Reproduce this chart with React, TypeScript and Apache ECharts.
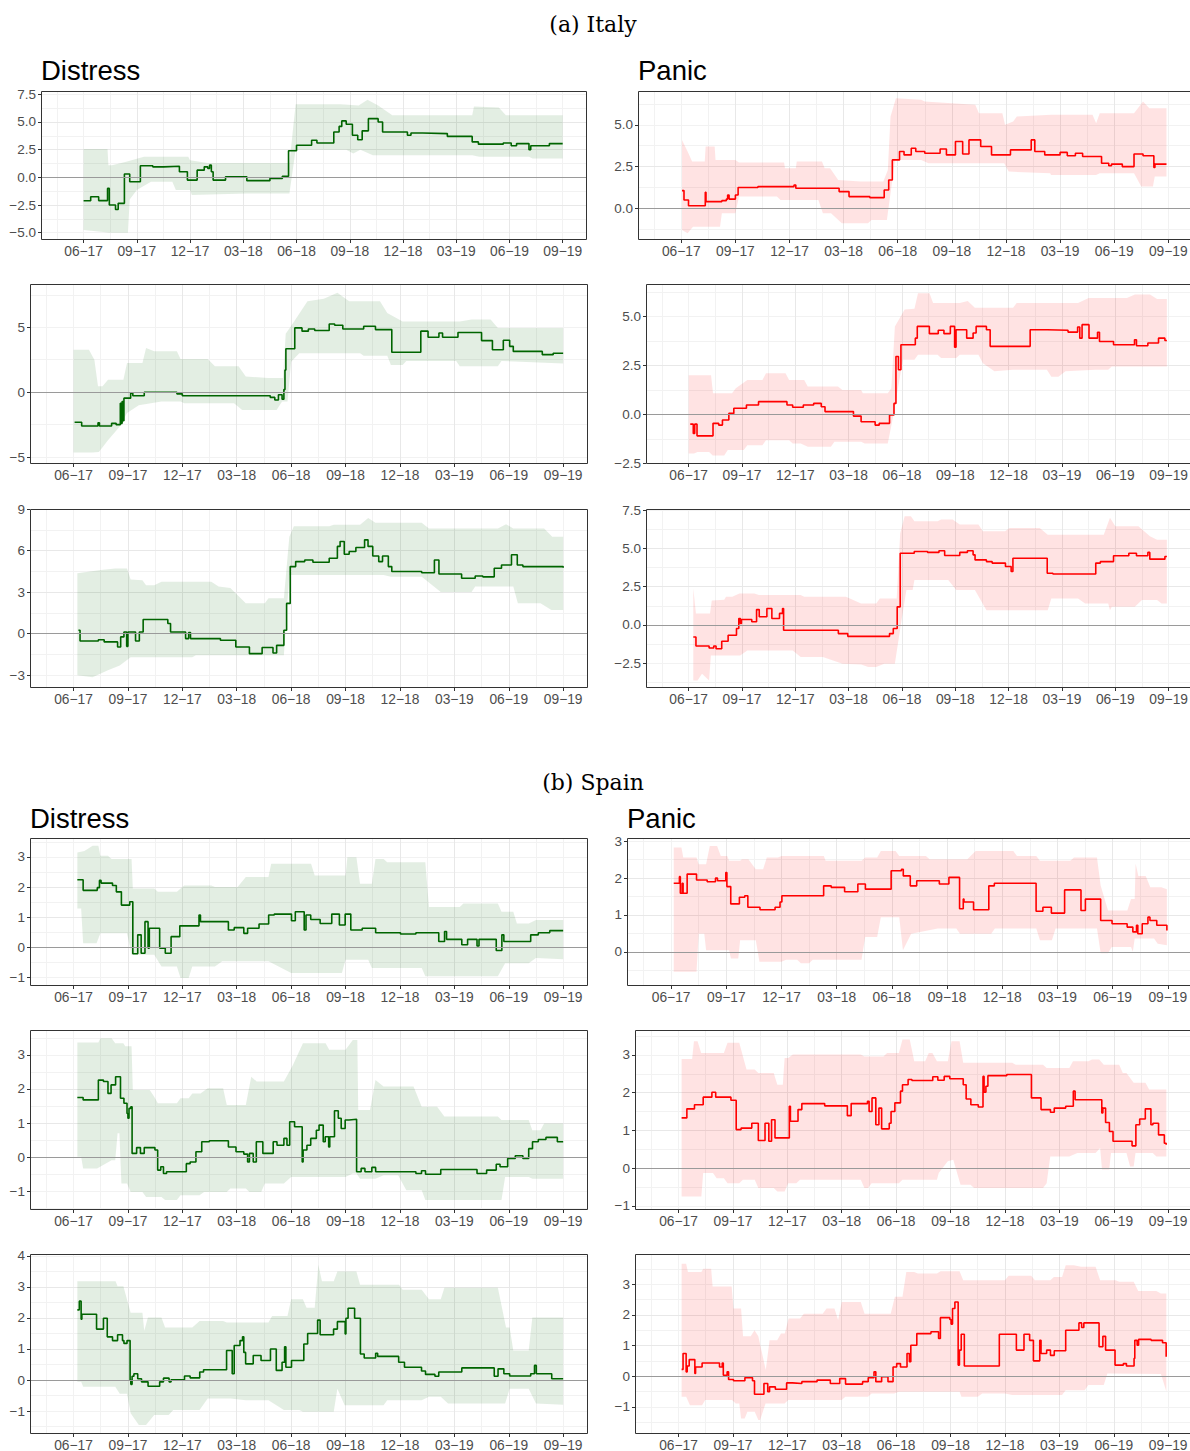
import React, { useEffect, useRef } from "react";
import * as echarts from "echarts";

type Pt = [number, number];

// x is a month counter: 1 = Jan 2017, 6 = Jun 2017, ..., 33 = Sep 2019
const quarterTicks = [6, 9, 12, 15, 18, 21, 24, 27, 30, 33];
const quarterLabels = ["06−17", "09−17", "12−17", "03−18", "06−18", "09−18", "12−18", "03−19", "06−19", "09−19"];

// ---------------- Italy ----------------
const itDis1Line: Pt[] = [[6.0,-2.11],[6.4,-1.75],[6.85,-2.1],[7.35,-1.0],[7.45,-2.5],[7.8,-2.9],[7.95,-2.35],[8.3,0.3],[8.6,-0.4],[9.2,1.05],[9.9,0.95],[10.5,1.0],[11.4,0.5],[11.85,-0.25],[12.4,0.65],[12.8,0.95],[13.0,0.8],[13.1,1.1],[13.2,0.5],[13.3,-0.25],[14.0,0.05],[15.2,-0.3],[16.5,-0.1],[17.2,0.1],[17.55,2.4],[18.0,2.9],[18.85,3.35],[19.15,3.1],[20.1,4.1],[20.4,4.6],[20.55,5.1],[20.8,4.8],[21.15,3.8],[21.45,3.4],[21.7,4.2],[22.05,5.3],[22.6,5.0],[22.85,4.1],[24.25,3.8],[24.45,4.0],[25.1,3.95],[26.5,3.7],[27.9,3.2],[28.25,3.0],[29.65,3.1],[30.1,2.85],[30.4,3.05],[31.1,2.5],[31.2,2.85],[32.25,3.05],[33.0,3.05]];
const itDis1Hi: Pt[] = [[6.0,2.55],[7.35,2.55],[7.4,1.1],[7.6,1.1],[8.4,1.4],[9.4,1.85],[11.9,1.85],[12.0,1.55],[13.0,1.3],[17.6,1.3],[17.95,6.6],[20.5,6.6],[21.5,6.5],[22.0,7.0],[22.6,6.5],[23.4,5.6],[27.9,5.6],[28.0,6.4],[29.4,6.3],[29.8,5.6],[33.0,5.6]];
const itDis1Lo: Pt[] = [[6.0,-4.75],[7.5,-5.0],[8.5,-5.0],[8.6,-2.0],[9.0,-1.15],[9.8,-0.4],[11.0,-0.4],[11.2,-1.15],[12.0,-1.15],[12.1,-1.6],[15.2,-1.45],[17.6,-1.45],[17.95,2.5],[20.8,2.5],[21.2,2.15],[21.6,2.5],[22.3,2.0],[27.9,2.0],[28.3,1.85],[31.1,1.85],[31.3,1.7],[33.0,1.7]];

const itPan1Line: Pt[] = [[6.04,1.06],[6.15,0.5],[6.4,0.15],[7.33,0.96],[7.37,0.4],[8.25,0.46],[8.5,0.55],[8.57,0.8],[8.65,0.55],[9.0,0.8],[9.15,1.25],[10.25,1.3],[12.25,1.4],[12.35,1.2],[14.75,1.0],[15.3,0.7],[16.45,0.64],[17.25,1.1],[17.5,1.7],[17.7,2.9],[18.1,3.4],[18.35,3.2],[18.75,3.6],[19.0,3.4],[19.5,3.3],[20.35,3.55],[20.7,3.2],[21.2,4.0],[21.6,3.25],[21.95,4.1],[22.6,3.7],[23.2,3.2],[24.25,3.5],[25.4,4.1],[25.6,3.4],[26.15,3.2],[27.0,3.35],[27.4,3.15],[27.85,3.3],[28.25,3.1],[29.3,2.7],[29.7,2.55],[29.85,2.65],[30.45,2.5],[31.1,3.25],[31.6,3.15],[32.2,2.45],[32.26,2.65],[32.9,2.65]];
const itPan1Hi: Pt[] = [[6.04,4.1],[6.35,3.4],[6.6,2.8],[7.3,2.8],[7.35,3.7],[7.85,3.7],[7.9,2.9],[9.0,2.9],[9.2,2.75],[11.7,2.75],[11.75,2.4],[12.35,2.4],[12.4,2.8],[13.8,2.8],[13.95,2.4],[14.25,2.4],[14.7,1.7],[15.95,1.6],[17.2,1.6],[17.45,2.3],[17.6,5.5],[17.9,6.6],[19.3,6.5],[19.5,6.4],[21.0,6.3],[22.3,6.2],[22.5,5.7],[23.8,5.7],[23.95,5.0],[24.4,5.2],[24.6,5.5],[26.5,5.6],[28.8,5.6],[29.0,5.1],[29.2,5.7],[31.1,5.7],[31.6,6.4],[31.95,6.0],[32.9,6.0]];
const itPan1Lo: Pt[] = [[6.04,-1.3],[6.35,-1.5],[6.65,-1.1],[8.15,-1.1],[8.25,-0.3],[9.0,-0.3],[9.2,0.7],[11.3,0.7],[11.5,0.5],[13.6,0.5],[13.85,-0.3],[14.3,-0.3],[14.9,-0.9],[16.35,-0.9],[16.55,-0.7],[17.4,-0.7],[17.85,2.9],[19.3,2.9],[19.7,2.7],[23.9,2.7],[24.15,2.2],[26.45,2.1],[26.5,2.0],[29.0,2.0],[29.2,2.1],[31.1,2.1],[31.5,1.3],[32.15,1.3],[32.25,1.9],[32.9,1.9]];

const itDis2Line: Pt[] = [[6.06,-2.32],[6.45,-2.6],[7.35,-2.35],[7.43,-2.6],[8.1,-2.4],[8.35,-2.5],[8.58,-0.85],[8.63,-2.4],[8.68,-0.72],[8.72,-2.2],[8.78,-0.46],[9.15,-0.08],[9.27,-0.28],[9.9,0.0],[11.7,-0.13],[12.0,-0.28],[16.85,-0.4],[17.1,-0.6],[17.3,-0.2],[17.5,-0.55],[17.6,0.2],[17.66,1.7],[17.71,3.35],[18.2,4.95],[18.6,4.7],[18.95,4.87],[19.3,4.75],[20.1,5.25],[20.4,5.15],[20.85,4.87],[22.0,5.08],[22.65,4.82],[23.55,3.07],[25.15,4.7],[25.55,4.23],[26.15,4.56],[26.35,4.23],[27.2,4.6],[28.5,3.97],[29.1,3.27],[29.7,4.0],[30.05,3.53],[30.25,3.14],[31.85,2.89],[32.45,3.0],[33.0,3.0]];
const itDis2Hi: Pt[] = [[6.0,3.27],[6.85,3.27],[7.15,2.5],[7.35,0.45],[7.6,0.45],[7.9,0.95],[8.75,0.95],[8.95,2.25],[9.8,2.25],[10.0,3.4],[10.45,3.15],[11.7,3.15],[11.9,2.55],[13.4,2.55],[13.8,2.0],[15.1,2.0],[15.5,1.2],[16.75,1.1],[17.55,1.1],[17.7,4.5],[18.1,5.3],[18.9,7.0],[19.8,7.2],[20.55,7.65],[21.2,7.0],[22.9,7.0],[23.3,6.1],[24.15,5.45],[27.3,5.45],[27.95,5.6],[29.0,5.6],[29.4,4.95],[33.0,4.95]];
const itDis2Lo: Pt[] = [[6.0,-4.65],[7.05,-4.65],[7.4,-4.6],[7.9,-3.7],[8.55,-2.65],[8.95,-1.6],[9.6,-1.0],[10.85,-0.72],[11.9,-0.72],[12.1,-0.85],[14.85,-0.85],[15.3,-1.37],[17.2,-1.37],[17.5,-0.72],[17.8,-0.72],[18.0,2.35],[18.45,3.0],[21.8,3.0],[22.0,2.8],[23.3,2.8],[23.5,2.1],[24.15,2.1],[24.35,2.4],[27.1,2.4],[27.3,2.0],[29.4,2.0],[29.6,2.4],[33.0,2.2]];

const itPan2Line: Pt[] = [[6.09,-0.5],[6.26,-0.98],[6.34,-0.5],[6.47,-1.1],[7.37,-0.46],[7.69,-0.55],[7.9,-0.29],[8.26,0.05],[8.54,0.31],[9.25,0.48],[9.93,0.65],[11.53,0.48],[11.85,0.36],[12.45,0.48],[13.03,0.56],[13.46,0.39],[13.67,0.14],[15.27,-0.09],[15.7,-0.38],[16.49,-0.55],[16.72,-0.46],[17.3,-0.03],[17.55,0.56],[17.66,2.96],[17.8,2.28],[17.94,3.56],[18.75,3.9],[18.86,4.5],[19.54,4.13],[20.04,4.3],[20.36,4.13],[20.72,4.5],[20.96,3.44],[21.04,4.33],[21.64,3.9],[22.0,4.16],[22.17,4.5],[22.75,4.33],[22.96,3.48],[25.21,4.33],[26.17,4.3],[27.34,4.21],[27.88,4.47],[28.0,3.9],[28.13,4.59],[28.52,3.9],[29.0,4.2],[29.11,3.73],[29.9,3.56],[31.08,3.82],[31.19,3.51],[31.83,3.65],[32.43,3.9],[32.79,3.78],[32.9,3.78]];
const itPan2Hi: Pt[] = [[6.0,2.0],[7.26,2.0],[7.37,1.08],[8.44,1.08],[8.65,1.34],[9.3,1.76],[10.15,1.76],[10.35,2.1],[11.45,2.1],[11.65,1.76],[12.5,1.76],[12.7,1.42],[14.4,1.42],[14.65,1.25],[15.7,1.25],[15.8,1.08],[17.2,1.08],[17.4,1.34],[17.6,4.5],[18.15,5.36],[18.7,5.4],[18.9,6.2],[19.55,6.2],[19.75,5.7],[21.25,5.7],[21.7,5.8],[22.1,5.45],[24.25,5.45],[24.45,5.7],[27.9,5.7],[28.5,5.96],[30.65,5.96],[31.1,6.13],[31.95,6.13],[32.35,5.9],[32.9,5.9]];
const itPan2Lo: Pt[] = [[6.0,-2.0],[6.3,-2.0],[6.5,-1.92],[7.15,-1.92],[7.35,-2.1],[8.0,-2.1],[8.2,-1.83],[9.1,-1.83],[9.3,-1.58],[10.15,-1.58],[10.35,-1.32],[11.65,-1.32],[11.85,-1.49],[12.3,-1.49],[12.7,-1.66],[14.0,-1.66],[14.2,-1.4],[15.7,-1.4],[15.9,-1.49],[17.2,-1.49],[17.5,-0.12],[18.05,2.8],[18.7,2.8],[18.9,3.05],[20.0,3.05],[20.2,2.88],[21.05,2.88],[21.25,3.05],[22.3,3.05],[22.55,2.62],[23.2,2.2],[24.25,2.28],[26.15,2.28],[26.4,1.93],[26.8,1.93],[27.2,2.2],[28.9,2.28],[29.6,2.28],[29.8,2.45],[32.9,2.45]];

const itDis3Line: Pt[] = [[6.27,0.24],[6.36,-0.53],[7.37,-0.44],[7.69,-0.6],[8.43,-0.97],[8.6,-0.24],[8.78,0.12],[8.93,-0.92],[9.0,0.12],[9.42,-0.53],[9.63,0.12],[9.84,1.02],[11.2,0.73],[11.35,0.12],[12.18,-0.36],[12.35,0.07],[12.45,-0.36],[14.1,-0.48],[14.95,-0.97],[15.7,-1.45],[16.4,-1.0],[17.0,-1.4],[17.2,-0.85],[17.6,0.24],[17.75,2.18],[17.95,4.84],[18.25,5.2],[18.75,5.32],[19.2,5.15],[20.1,5.44],[20.55,6.3],[20.7,6.65],[20.93,5.73],[21.2,5.93],[21.57,6.22],[22.05,6.77],[22.24,6.3],[22.5,5.61],[22.83,5.2],[23.04,5.61],[23.36,4.84],[23.55,4.48],[25.2,4.4],[25.9,5.32],[26.15,4.3],[27.4,4.0],[28.15,4.16],[28.57,4.1],[29.2,4.72],[29.6,4.96],[30.15,5.69],[30.47,4.96],[30.78,4.84],[33.0,4.75]];
const itDis3Hi: Pt[] = [[6.21,4.35],[7.5,4.6],[8.3,4.7],[8.95,4.7],[9.15,3.9],[9.8,3.85],[10.0,3.5],[10.45,3.5],[10.85,3.75],[13.6,3.75],[14.0,3.4],[14.65,3.3],[15.5,2.2],[16.55,2.2],[16.75,2.55],[17.6,2.55],[17.9,7.0],[18.15,7.75],[20.1,7.75],[20.35,7.86],[21.8,7.86],[22.25,8.35],[22.65,8.0],[25.2,8.0],[25.6,7.6],[29.4,7.6],[29.85,7.9],[30.25,7.6],[31.95,7.6],[32.4,7.0],[33.0,7.0]];
const itDis3Lo: Pt[] = [[6.21,-3.0],[7.05,-3.15],[7.9,-2.65],[8.55,-2.3],[9.15,-1.7],[12.55,-1.7],[12.75,-1.57],[17.6,-1.57],[17.9,4.23],[23.1,4.23],[23.5,4.1],[25.2,4.1],[26.25,3.0],[27.95,3.0],[28.15,3.4],[30.25,3.4],[30.5,2.2],[31.75,2.2],[32.35,1.7],[33.0,1.7]];

const itPan3Line: Pt[] = [[6.26,-0.79],[6.41,-1.38],[7.15,-1.51],[7.41,-1.38],[7.54,-1.56],[7.86,-1.07],[8.22,-0.68],[8.69,-0.24],[8.82,0.42],[8.91,0.09],[8.97,0.35],[9.55,0.2],[9.82,1.0],[9.97,0.53],[10.4,1.07],[10.68,0.42],[11.11,0.75],[11.28,1.07],[11.34,-0.35],[14.42,-0.57],[14.95,-0.75],[17.3,-0.57],[17.51,-0.24],[17.73,1.18],[17.9,4.69],[18.69,4.8],[19.44,4.74],[20.08,4.85],[20.4,4.54],[21.25,4.74],[21.68,4.85],[22.0,4.58],[22.11,4.25],[22.75,4.14],[23.07,4.04],[23.82,3.82],[24.14,3.49],[24.24,4.36],[26.17,3.38],[26.49,3.33],[28.9,4.04],[29.16,4.14],[29.9,4.52],[30.76,4.69],[31.19,4.52],[31.83,4.74],[31.94,4.3],[32.79,4.47],[32.9,4.47]];
const itPan3Hi: Pt[] = [[6.26,2.4],[6.41,0.75],[7.2,0.75],[7.3,1.6],[8.0,1.65],[8.1,1.84],[8.45,1.84],[8.85,2.06],[9.7,2.06],[9.95,1.95],[12.3,1.95],[12.5,1.84],[14.85,1.84],[15.7,1.4],[16.55,1.4],[16.75,1.73],[17.7,1.73],[17.9,6.0],[18.15,7.1],[18.5,7.1],[18.7,6.78],[20.0,6.78],[20.2,6.9],[20.85,6.9],[21.25,6.56],[22.3,6.56],[22.55,6.12],[23.8,6.12],[24.05,6.34],[25.75,6.34],[26.2,5.9],[29.35,5.9],[29.7,7.0],[30.0,6.45],[31.3,6.45],[31.95,5.8],[32.35,5.57],[32.9,5.57]];
const itPan3Lo: Pt[] = [[6.26,-3.64],[6.5,-3.64],[6.75,-3.2],[7.15,-3.64],[7.25,-2.0],[8.9,-2.0],[9.3,-1.67],[11.85,-1.67],[12.3,-2.1],[13.55,-2.1],[14.65,-2.54],[15.7,-2.6],[16.1,-2.76],[16.55,-2.76],[17.0,-2.54],[17.6,-2.54],[18.0,0.5],[18.25,2.28],[18.6,2.28],[18.7,2.94],[20.6,2.94],[21.05,2.28],[22.1,2.28],[22.75,0.96],[26.2,0.96],[26.4,1.73],[27.9,1.73],[28.3,1.4],[29.6,1.4],[29.7,0.96],[29.8,1.18],[31.1,1.18],[31.5,1.62],[32.35,1.62],[32.6,1.4],[32.9,1.4]];

// ---------------- Spain ----------------
const esDis1Line: Pt[] = [[6.21,2.24],[6.53,1.89],[7.31,1.98],[7.43,2.22],[7.52,2.13],[8.15,2.05],[8.36,1.84],[8.64,1.4],[9.1,1.51],[9.27,-0.22],[9.54,0.41],[9.73,-0.2],[9.94,0.85],[10.11,-0.03],[10.18,0.63],[10.75,-0.03],[11.06,-0.2],[11.38,0.35],[11.86,0.71],[12.92,1.07],[13.0,0.85],[14.2,0.85],[14.54,0.57],[14.86,0.65],[15.39,0.46],[15.6,0.63],[16.23,0.77],[16.76,1.07],[17.07,1.1],[18.02,0.88],[18.23,1.18],[18.72,0.57],[18.82,1.07],[19.08,0.92],[19.6,0.79],[20.24,1.1],[20.66,0.74],[20.98,1.1],[21.29,0.57],[21.92,0.63],[22.66,0.48],[24.03,0.44],[24.88,0.48],[26.14,0.19],[26.46,0.52],[26.57,0.26],[27.41,0.08],[27.73,0.26],[28.25,0.04],[28.36,0.26],[29.31,-0.11],[29.62,0.41],[29.73,0.19],[31.21,0.41],[31.63,0.48],[32.26,0.55],[33.0,0.53]];
const esDis1Hi: Pt[] = [[6.21,3.15],[6.6,3.2],[7.05,3.37],[7.37,3.37],[7.48,3.04],[7.9,3.04],[8.1,2.93],[9.2,2.93],[9.27,1.95],[10.45,1.95],[10.65,1.84],[11.7,1.84],[12.1,2.05],[13.6,2.05],[13.8,2.0],[15.05,2.0],[15.5,2.33],[16.75,2.33],[16.9,2.77],[19.1,2.77],[19.3,2.38],[21.0,2.38],[21.1,2.99],[21.6,2.99],[21.8,2.11],[22.45,2.11],[22.65,2.93],[23.1,2.93],[23.3,2.82],[25.4,2.82],[25.6,1.34],[27.3,1.34],[27.5,1.45],[29.4,1.45],[29.6,1.18],[30.25,1.18],[30.45,0.79],[31.1,0.79],[31.5,0.9],[33.0,0.9]];
const esDis1Lo: Pt[] = [[6.21,1.29],[6.42,1.29],[6.53,0.13],[7.27,0.13],[7.48,0.46],[8.95,0.46],[9.2,-0.25],[10.45,-0.25],[10.85,-0.64],[11.7,-0.64],[11.9,-1.02],[12.35,-1.02],[12.55,-0.64],[13.8,-0.64],[14.2,-0.47],[16.75,-0.47],[18.0,-0.86],[20.8,-0.86],[21.0,-0.42],[22.25,-0.42],[22.45,-0.69],[25.2,-0.69],[25.4,-0.97],[29.4,-0.97],[29.8,-0.53],[31.1,-0.53],[31.5,-0.36],[33.0,-0.4]];

const esPan1Line: Pt[] = [[6.14,1.86],[6.45,2.04],[6.5,1.59],[6.6,1.86],[6.65,1.59],[6.87,2.11],[7.38,1.95],[7.96,1.9],[8.41,2.0],[8.52,1.93],[8.97,2.15],[9.03,1.77],[9.24,1.3],[9.71,1.48],[10.0,1.52],[10.17,1.21],[10.83,1.14],[11.65,1.21],[11.92,1.35],[12.02,1.52],[14.29,1.79],[14.7,1.75],[15.43,1.63],[16.15,1.84],[16.56,1.7],[17.96,2.2],[18.52,2.24],[18.62,2.06],[19.0,1.79],[19.35,1.93],[20.58,1.84],[21.1,2.02],[21.68,1.17],[21.88,1.43],[21.92,1.35],[22.44,1.14],[23.27,1.79],[23.57,1.86],[25.84,1.1],[26.21,1.21],[26.67,1.05],[27.39,1.68],[28.28,1.12],[28.52,1.43],[29.35,0.85],[29.97,0.76],[30.79,0.67],[31.1,0.54],[31.3,0.72],[31.37,0.49],[31.61,0.76],[31.92,0.94],[32.03,0.85],[32.4,0.72],[32.95,0.58]];
const esPan1Hi: Pt[] = [[6.14,2.83],[6.56,2.83],[6.66,2.56],[7.38,2.56],[7.5,2.38],[7.9,2.38],[8.1,2.87],[8.5,2.87],[8.7,2.6],[9.05,2.6],[9.15,2.47],[9.75,2.47],[9.85,2.51],[10.2,2.51],[10.6,2.24],[11.0,2.24],[11.2,2.56],[11.8,2.56],[12.0,2.6],[14.3,2.6],[14.4,2.47],[16.35,2.47],[16.55,2.56],[17.2,2.56],[17.4,2.74],[18.2,2.74],[18.4,2.6],[19.85,2.6],[20.05,2.51],[22.1,2.51],[22.55,2.74],[24.6,2.74],[24.8,2.6],[25.85,2.6],[26.05,2.47],[27.7,2.47],[27.9,2.56],[29.15,2.56],[29.35,1.8],[29.75,1.12],[30.8,1.12],[31.0,1.43],[31.2,1.43],[31.25,2.4],[31.4,2.06],[31.8,2.06],[32.05,1.75],[32.65,1.75],[32.95,1.7]];
const esPan1Lo: Pt[] = [[6.14,-0.54],[7.38,-0.54],[7.5,0.49],[7.8,0.49],[7.9,0.04],[9.15,0.04],[9.25,-0.18],[9.65,-0.18],[9.75,0.31],[10.6,0.31],[10.8,-0.27],[12.0,-0.27],[12.25,-0.22],[12.85,-0.22],[13.05,-0.31],[13.5,-0.31],[13.7,-0.22],[16.35,-0.22],[16.55,0.4],[17.2,0.4],[17.4,0.94],[18.4,0.94],[18.6,0.04],[19.05,0.49],[20.5,0.63],[21.5,0.63],[21.7,0.49],[23.4,0.49],[23.6,0.63],[25.85,0.63],[26.05,0.31],[26.7,0.31],[26.9,0.63],[29.15,0.63],[29.35,-0.04],[29.75,-0.04],[29.95,0.13],[31.0,0.13],[31.1,0.0],[31.2,0.36],[32.25,0.36],[32.45,0.22],[32.95,0.18]];

const esDis2Line: Pt[] = [[6.21,1.75],[6.53,1.68],[7.37,2.26],[7.65,2.22],[7.9,1.87],[8.07,2.12],[8.32,2.36],[8.59,1.73],[8.78,1.58],[8.95,1.28],[9.0,1.14],[9.06,1.43],[9.16,1.48],[9.23,0.11],[9.48,0.28],[9.69,0.11],[9.9,0.28],[10.49,0.21],[10.64,-0.38],[10.81,-0.28],[10.96,-0.48],[11.13,-0.43],[12.22,-0.19],[12.43,-0.14],[12.75,0.16],[13.07,0.45],[13.49,0.48],[14.54,0.3],[14.96,0.16],[15.39,0.09],[15.6,-0.14],[15.7,0.11],[15.91,-0.14],[16.08,0.45],[16.44,0.11],[17.01,0.45],[17.22,0.35],[17.6,0.55],[17.77,0.35],[17.92,1.04],[18.19,0.89],[18.61,-0.14],[18.66,0.21],[18.87,0.35],[19.08,0.55],[19.39,0.79],[19.54,0.94],[19.77,0.45],[19.88,0.6],[20.07,0.3],[20.13,0.6],[20.39,1.36],[20.6,1.14],[20.76,0.84],[20.98,1.09],[21.19,1.11],[21.61,-0.43],[21.86,-0.33],[22.07,-0.43],[22.45,-0.3],[22.66,-0.43],[24.88,-0.48],[25.19,-0.4],[25.41,-0.5],[26.25,-0.36],[28.25,-0.48],[28.78,-0.38],[29.31,-0.21],[29.52,-0.28],[29.94,-0.04],[30.36,0.04],[30.78,-0.04],[31.1,0.25],[31.31,0.45],[31.63,0.52],[32.05,0.58],[32.68,0.45],[33.0,0.45]];
const esDis2Hi: Pt[] = [[6.21,3.36],[7.37,3.36],[7.48,3.49],[8.1,3.49],[8.3,3.34],[8.75,3.34],[8.85,3.25],[9.2,3.25],[9.27,1.97],[10.2,1.97],[10.45,1.77],[10.65,1.58],[11.7,1.58],[11.9,1.73],[12.35,1.73],[12.55,1.87],[13.0,1.87],[13.4,2.02],[14.25,2.02],[14.45,1.53],[15.5,1.53],[15.8,2.36],[16.1,2.22],[17.6,2.22],[18.1,2.7],[18.65,3.34],[19.9,3.34],[20.1,3.15],[21.0,3.15],[21.4,3.44],[21.65,3.44],[21.7,1.38],[22.35,1.38],[22.65,2.26],[23.1,2.07],[24.75,2.07],[25.2,1.48],[26.05,1.48],[26.45,1.19],[29.4,1.19],[29.6,1.09],[31.1,1.09],[31.3,0.79],[31.75,0.79],[31.95,0.99],[33.0,0.99]];
const esDis2Lo: Pt[] = [[6.21,0.01],[6.42,0.01],[6.53,-0.33],[7.3,-0.33],[8.1,-0.09],[8.3,-0.09],[8.43,0.7],[8.53,0.7],[8.64,-0.77],[8.95,-0.77],[9.15,-1.02],[9.8,-1.02],[10.0,-1.17],[10.85,-1.17],[11.05,-1.26],[11.7,-1.26],[11.9,-1.12],[12.95,-1.12],[13.2,-1.02],[14.45,-1.02],[14.65,-0.92],[15.5,-0.92],[15.7,-1.02],[16.35,-1.02],[16.55,-0.77],[17.6,-0.77],[18.0,-0.58],[21.0,-0.58],[21.4,-0.48],[21.6,-0.48],[21.8,-0.63],[22.65,-0.63],[23.1,-0.53],[23.9,-0.53],[24.35,-0.97],[25.2,-0.97],[25.4,-1.26],[29.6,-1.26],[29.8,-0.58],[31.1,-0.58],[31.3,-0.63],[33.0,-0.63]];

const esPan2Line: Pt[] = [[6.17,1.33],[6.46,1.57],[6.88,1.68],[7.36,1.88],[7.84,2.01],[8.05,1.88],[8.89,1.8],[9.18,1.02],[9.45,1.06],[10.04,1.19],[10.4,0.73],[10.77,1.19],[10.98,0.71],[11.13,1.28],[11.32,0.8],[12.11,1.64],[12.17,1.24],[12.59,1.55],[12.8,1.71],[14.06,1.65],[15.31,1.39],[15.52,1.71],[16.42,1.77],[16.51,1.5],[16.67,1.86],[16.88,1.15],[17.05,1.59],[17.2,1.04],[17.62,1.19],[17.72,1.5],[17.93,1.73],[18.24,2.04],[18.35,2.21],[18.66,2.35],[18.87,2.32],[20.02,2.42],[20.3,2.33],[20.65,2.43],[20.96,2.37],[21.7,2.21],[21.86,1.83],[22.12,1.68],[22.53,1.62],[22.79,2.43],[22.85,2.01],[22.95,2.17],[23.06,2.45],[24.1,2.48],[25.46,1.86],[25.99,1.55],[26.51,1.48],[26.72,1.59],[27.35,1.64],[27.77,2.04],[27.87,1.81],[29.34,1.46],[29.4,1.59],[29.55,1.21],[29.76,0.97],[29.96,0.71],[31.01,0.59],[31.22,1.15],[31.43,1.3],[31.74,1.57],[32.05,1.15],[32.16,1.19],[32.47,0.88],[32.79,0.66],[32.89,0.62]];
const esPan2Hi: Pt[] = [[6.17,2.89],[6.75,2.89],[6.85,3.36],[7.05,3.36],[7.25,3.05],[8.5,3.05],[8.7,3.32],[9.35,3.32],[9.75,2.61],[10.2,2.61],[10.4,2.52],[11.25,2.52],[11.45,2.21],[11.75,2.21],[11.85,2.92],[12.05,2.92],[12.3,3.01],[16.05,3.01],[16.25,2.96],[17.3,2.96],[17.5,3.05],[18.15,3.05],[18.35,3.41],[18.75,3.41],[19.0,2.83],[19.6,2.83],[19.8,3.05],[20.0,3.05],[20.25,2.83],[20.85,2.83],[21.05,3.36],[21.5,3.36],[21.7,2.79],[24.4,2.79],[24.6,2.74],[26.1,2.74],[26.3,2.65],[27.55,2.65],[27.75,2.83],[28.6,2.83],[28.8,2.88],[29.2,2.88],[29.45,2.74],[30.3,2.74],[30.5,2.52],[30.7,2.52],[31.1,2.26],[31.75,2.26],[31.95,2.08],[32.9,2.08]];
const esPan2Lo: Pt[] = [[6.17,-0.75],[7.26,-0.75],[7.36,-0.13],[7.9,-0.13],[8.1,-0.27],[8.5,-0.27],[8.7,-0.4],[9.35,-0.4],[9.55,-0.31],[10.2,-0.31],[10.4,-0.53],[11.25,-0.53],[11.45,-0.62],[11.85,-0.62],[12.05,-0.4],[12.5,-0.4],[12.7,-0.31],[16.05,-0.31],[16.25,-0.53],[16.45,-0.53],[16.65,-0.4],[18.15,-0.4],[18.35,-0.31],[20.25,-0.31],[20.35,-0.13],[20.85,0.18],[21.15,0.22],[21.55,-0.44],[22.1,-0.44],[22.3,-0.53],[26.1,-0.53],[26.3,-0.4],[26.5,0.31],[27.55,0.31],[28.0,0.4],[29.0,0.4],[29.25,0.53],[29.35,-0.04],[29.75,-0.04],[29.85,0.4],[30.7,0.4],[30.9,0.04],[31.1,0.04],[31.2,0.4],[32.15,0.4],[32.35,0.31],[32.9,0.31]];

const esDis3Line: Pt[] = [[6.21,2.26],[6.32,2.54],[6.42,1.96],[6.46,2.12],[7.27,1.64],[7.65,1.99],[7.86,1.39],[8.15,1.27],[8.43,1.46],[8.7,1.27],[8.78,1.18],[8.95,1.27],[9.12,0.0],[9.16,-0.14],[9.23,0.12],[9.33,0.2],[9.54,0.04],[9.75,-0.06],[10.11,-0.2],[10.75,-0.06],[10.96,0.06],[11.27,-0.06],[11.38,0.01],[12.12,0.13],[12.43,0.07],[12.96,0.26],[13.17,0.33],[14.44,0.95],[14.75,0.2],[14.86,1.11],[15.18,1.27],[15.32,1.39],[15.39,0.89],[15.49,0.52],[15.91,0.79],[16.34,0.63],[16.86,1.0],[17.18,0.31],[17.5,0.57],[17.64,1.07],[17.71,0.41],[18.02,0.63],[18.7,1.16],[18.91,1.5],[19.46,1.93],[19.6,1.46],[20.34,1.64],[20.55,1.88],[20.98,1.48],[21.02,1.99],[21.14,2.31],[21.5,1.99],[21.82,0.84],[22.03,0.71],[22.66,0.86],[22.77,0.76],[23.93,0.57],[24.25,0.41],[25.19,0.29],[25.41,0.18],[25.93,0.12],[26.14,0.26],[27.41,0.39],[29.2,0.12],[29.41,0.36],[29.73,0.2],[30.05,0.13],[31.21,0.2],[31.42,0.47],[31.52,0.2],[32.37,0.04],[33.0,0.04]];
const esDis3Hi: Pt[] = [[6.21,3.18],[8.32,3.18],[8.43,3.02],[8.75,3.02],[9.15,2.17],[9.8,2.17],[9.9,1.59],[10.1,2.01],[10.85,2.01],[11.05,1.69],[12.55,1.69],[12.95,1.9],[14.25,1.9],[14.45,1.85],[16.75,1.85],[16.95,2.06],[17.8,2.06],[18.0,2.6],[18.65,2.6],[18.85,2.33],[19.3,2.33],[19.5,3.71],[19.7,3.18],[20.35,3.18],[20.55,3.5],[21.6,3.5],[21.8,3.07],[23.95,3.07],[24.15,2.91],[25.2,2.91],[25.6,2.6],[26.25,2.6],[26.45,2.97],[29.4,2.97],[29.85,1.69],[30.05,1.69],[30.25,0.95],[31.1,0.95],[31.3,2.01],[33.0,2.01]];
const esDis3Lo: Pt[] = [[6.21,-0.06],[6.42,-0.06],[6.53,-0.22],[8.3,-0.22],[8.55,-0.44],[8.95,-0.44],[9.15,-1.07],[9.6,-1.45],[10.0,-1.45],[10.45,-1.13],[11.25,-1.13],[11.5,-0.97],[12.95,-0.97],[13.4,-0.6],[14.65,-0.6],[15.5,-0.65],[16.75,-0.65],[17.6,-0.97],[18.45,-0.97],[18.65,-1.02],[20.35,-1.02],[20.55,-0.28],[20.95,-0.81],[23.1,-0.81],[23.3,-0.65],[25.2,-0.65],[25.6,-0.54],[26.25,-0.54],[26.65,-0.76],[29.8,-0.76],[30.05,-0.28],[31.1,-0.28],[31.5,-0.76],[33.0,-0.8]];

const esPan3Line: Pt[] = [[6.17,0.22],[6.25,0.74],[6.42,0.14],[6.48,0.33],[6.59,0.54],[6.9,0.09],[6.94,0.3],[7.3,0.43],[8.26,0.3],[8.41,0.43],[8.47,0.03],[8.68,0.14],[8.76,-0.11],[9.03,-0.15],[9.66,-0.05],[10.08,-0.15],[10.19,-0.59],[10.71,-0.24],[10.92,-0.51],[11.02,-0.35],[11.34,-0.43],[11.96,-0.22],[12.28,-0.24],[12.8,-0.18],[13.64,-0.13],[14.37,-0.24],[14.89,-0.08],[15.21,-0.26],[16.15,-0.18],[16.46,-0.05],[16.78,0.14],[16.88,-0.18],[17.2,-0.02],[17.55,-0.18],[17.83,0.3],[18.03,0.41],[18.24,0.3],[18.6,0.74],[18.73,0.47],[18.81,1.01],[19.14,1.39],[19.92,1.45],[20.34,1.23],[20.44,1.91],[20.96,1.85],[21.03,1.7],[21.11,2.21],[21.24,2.42],[21.42,0.36],[21.49,0.85],[21.59,1.37],[21.76,0.33],[23.69,1.37],[24.63,0.85],[25.05,1.37],[25.36,1.17],[25.57,0.5],[25.92,1.17],[25.99,0.74],[26.3,0.85],[26.51,0.68],[26.72,0.83],[27.35,1.5],[28.08,1.74],[28.23,1.59],[28.35,1.74],[29.19,0.96],[29.4,1.3],[29.55,0.85],[30.07,0.36],[30.53,0.41],[30.7,0.33],[31.12,0.58],[31.16,1.17],[31.29,1.01],[31.37,1.2],[32.06,1.17],[32.69,1.09],[32.89,0.63]];
const esPan3Hi: Pt[] = [[6.17,3.67],[6.42,3.67],[6.52,3.4],[7.26,3.4],[7.36,3.51],[7.8,3.51],[7.88,2.93],[8.93,2.93],[9.03,2.21],[9.45,2.21],[9.56,1.3],[9.98,1.3],[10.19,1.5],[10.4,1.3],[10.81,0.2],[11.02,1.17],[11.44,1.17],[11.65,1.39],[11.86,1.39],[12.07,1.88],[12.7,1.88],[12.91,2.04],[13.95,2.04],[14.16,2.21],[14.6,2.21],[14.8,1.83],[15.0,2.42],[16.05,2.42],[16.26,2.04],[17.7,2.04],[17.93,2.59],[18.35,2.59],[18.56,3.4],[19.0,3.4],[19.2,3.35],[20.25,3.35],[20.45,3.43],[21.5,3.43],[21.7,3.13],[24.0,3.13],[24.2,3.28],[25.45,3.28],[25.65,3.13],[26.5,3.13],[26.7,3.24],[27.15,3.24],[27.35,3.62],[27.8,3.62],[28.2,3.57],[29.0,3.57],[29.25,3.13],[30.1,3.13],[30.3,3.08],[31.1,3.08],[31.35,2.78],[32.35,2.78],[32.6,2.7],[32.9,2.7]];
const esPan3Lo: Pt[] = [[6.17,-0.67],[6.42,-0.67],[6.63,-0.95],[7.3,-0.95],[7.47,-0.78],[8.95,-0.78],[9.15,-0.89],[9.35,-0.89],[9.45,-1.38],[9.65,-1.38],[9.8,-1.16],[10.2,-1.16],[10.4,-1.43],[10.5,-1.43],[10.8,-0.89],[11.85,-0.89],[12.05,-0.78],[15.0,-0.78],[15.2,-0.67],[16.45,-0.67],[16.65,-0.57],[17.9,-0.57],[18.15,-0.51],[21.5,-0.51],[21.6,-0.67],[22.5,-0.67],[22.75,-0.57],[24.0,-0.57],[24.4,-0.62],[27.15,-0.62],[27.35,-0.46],[28.4,-0.46],[28.6,-0.29],[29.45,-0.29],[29.65,0.09],[32.6,0.07],[32.9,-0.5]];

// y-axis tick values per panel
const yTicksItDis1 = [-5, -2.5, 0, 2.5, 5, 7.5];
const yTicksItPan1 = [0, 2.5, 5];
const yTicksItDis2 = [-5, 0, 5];
const yTicksItPan2 = [-2.5, 0, 2.5, 5];
const yTicksItDis3 = [-3, 0, 3, 6, 9];
const yTicksItPan3 = [-2.5, 0, 2.5, 5, 7.5];
const yTicksEsDis1 = [-1, 0, 1, 2, 3];
const yTicksEsPan1 = [0, 1, 2, 3];
const yTicksEsDis2 = [-1, 0, 1, 2, 3];
const yTicksEsPan2 = [-1, 0, 1, 2, 3];
const yTicksEsDis3 = [-1, 0, 1, 2, 3, 4];
const yTicksEsPan3 = [-1, 0, 1, 2, 3];

const X_MIN = 3.6;
const X_MAX = 34.37;
const SANS = '"Liberation Sans", Arial, Helvetica, sans-serif';
const SERIF = '"DejaVu Serif", "Liberation Serif", serif';

type Panel = {
  line: Pt[]; hi: Pt[]; lo: Pt[]; kind: "d" | "p";
  yMin: number; yMax: number; step: number; ticks: number[]; dec: number;
  box: [number, number, number, number];
};

const panels: Panel[] = [
  { line: itDis1Line, hi: itDis1Hi, lo: itDis1Lo, kind: "d", yMin: -5.66, yMax: 7.8, step: 2.5, ticks: yTicksItDis1, dec: 1, box: [41, 91, 546, 149] },
  { line: itPan1Line, hi: itPan1Hi, lo: itPan1Lo, kind: "p", yMin: -1.9, yMax: 7.03, step: 2.5, ticks: yTicksItPan1, dec: 1, box: [638, 91, 555, 149] },
  { line: itDis2Line, hi: itDis2Hi, lo: itDis2Lo, kind: "d", yMin: -5.53, yMax: 8.33, step: 5, ticks: yTicksItDis2, dec: 0, box: [30, 284, 558, 180] },
  { line: itPan2Line, hi: itPan2Hi, lo: itPan2Lo, kind: "p", yMin: -2.54, yMax: 6.67, step: 2.5, ticks: yTicksItPan2, dec: 1, box: [646, 284, 547, 180] },
  { line: itDis3Line, hi: itDis3Hi, lo: itDis3Lo, kind: "d", yMin: -3.93, yMax: 9.0, step: 3, ticks: yTicksItDis3, dec: 0, box: [30, 509, 558, 179] },
  { line: itPan3Line, hi: itPan3Hi, lo: itPan3Lo, kind: "p", yMin: -4.13, yMax: 7.58, step: 2.5, ticks: yTicksItPan3, dec: 1, box: [646, 509, 547, 179] },
  { line: esDis1Line, hi: esDis1Hi, lo: esDis1Lo, kind: "d", yMin: -1.29, yMax: 3.63, step: 1, ticks: yTicksEsDis1, dec: 0, box: [30, 838, 558, 148] },
  { line: esPan1Line, hi: esPan1Hi, lo: esPan1Lo, kind: "p", yMin: -0.93, yMax: 3.09, step: 1, ticks: yTicksEsPan1, dec: 0, box: [627, 838, 566, 148] },
  { line: esDis2Line, hi: esDis2Hi, lo: esDis2Lo, kind: "d", yMin: -1.55, yMax: 3.73, step: 1, ticks: yTicksEsDis2, dec: 0, box: [30, 1030, 558, 180] },
  { line: esPan2Line, hi: esPan2Hi, lo: esPan2Lo, kind: "p", yMin: -1.11, yMax: 3.66, step: 1, ticks: yTicksEsPan2, dec: 0, box: [635, 1030, 558, 180] },
  { line: esDis3Line, hi: esDis3Hi, lo: esDis3Lo, kind: "d", yMin: -1.74, yMax: 4.06, step: 1, ticks: yTicksEsDis3, dec: 0, box: [30, 1254, 558, 180] },
  { line: esPan3Line, hi: esPan3Hi, lo: esPan3Lo, kind: "p", yMin: -1.89, yMax: 3.99, step: 1, ticks: yTicksEsPan3, dec: 0, box: [635, 1254, 558, 180] },
];

function fmtX(v: number): string {
  const i = quarterTicks.findIndex((t) => Math.abs(t - v) < 1e-6);
  return i < 0 ? "" : quarterLabels[i];
}

function makeFmtY(ticks: number[], dec: number) {
  return (v: number): string => {
    const t = ticks.find((k) => Math.abs(k - v) < 1e-6);
    if (t === undefined) return "";
    const s = Math.abs(t).toFixed(dec);
    return t < -1e-9 ? "−" + s : s;
  };
}

function buildOption() {
  const grid: any[] = [];
  const xAxis: any[] = [];
  const yAxis: any[] = [];
  const series: any[] = [];
  const graphic: any[] = [];

  panels.forEach((p, i) => {
    const [l, t, w, h] = p.box;
    grid.push({ left: l, top: t, width: w, height: h, show: false, containLabel: false, outerBoundsMode: "none" });

    // minor x grid (drawn first)
    xAxis.push({
      type: "value", gridIndex: i, position: "top", min: X_MIN, max: X_MAX, z: 0,
      splitNumber: 20, minInterval: 1.5, maxInterval: 1.5,
      axisLine: { show: false, onZero: false }, axisTick: { show: false }, axisLabel: { show: false },
      splitLine: { show: true, showMinLine: false, showMaxLine: false, lineStyle: { color: "#f2f2f2", width: 1 } },
    });
    // major x axis
    xAxis.push({
      type: "value", gridIndex: i, position: "bottom", min: X_MIN, max: X_MAX, z: 1,
      splitNumber: 10, minInterval: 3, maxInterval: 3,
      axisLine: { show: false, onZero: false },
      axisTick: { show: true, length: 3, customValues: quarterTicks, lineStyle: { color: "#333333", width: 1 } },
      axisLabel: { show: true, margin: 4, color: "#4d4d4d", fontSize: 13.8, fontFamily: SANS, formatter: fmtX, customValues: quarterTicks, hideOverlap: false },
      splitLine: { show: true, showMinLine: false, showMaxLine: false, lineStyle: { color: "#e8e8e8", width: 1 } },
    });
    // minor y grid
    yAxis.push({
      type: "value", gridIndex: i, position: "right", min: p.yMin, max: p.yMax, z: 0,
      splitNumber: 20, minInterval: p.step / 2, maxInterval: p.step / 2,
      axisLine: { show: false, onZero: false }, axisTick: { show: false }, axisLabel: { show: false },
      splitLine: { show: true, showMinLine: false, showMaxLine: false, lineStyle: { color: "#f2f2f2", width: 1 } },
    });
    // major y axis
    yAxis.push({
      type: "value", gridIndex: i, position: "left", min: p.yMin, max: p.yMax, z: 1,
      splitNumber: 10, minInterval: p.step, maxInterval: p.step,
      axisLine: { show: false, onZero: false },
      axisTick: { show: true, length: 3, customValues: p.ticks, lineStyle: { color: "#333333", width: 1 } },
      axisLabel: { show: true, margin: 5, color: "#4d4d4d", fontSize: 13.5, fontFamily: SANS, formatter: makeFmtY(p.ticks, p.dec), customValues: p.ticks, hideOverlap: false },
      splitLine: { show: true, showMinLine: false, showMaxLine: false, lineStyle: { color: "#e8e8e8", width: 1 } },
    });

    const xi = 2 * i + 1;
    const yi = 2 * i + 1;
    const bandFill = p.kind === "d" ? "rgba(0,100,0,0.11)" : "rgba(255,0,0,0.11)";
    const lineColor = p.kind === "d" ? "#006400" : "#ff0000";
    const hi = p.hi;
    const lo = p.lo;

    series.push({
      type: "custom",
      xAxisIndex: xi,
      yAxisIndex: yi,
      z: 2,
      silent: true,
      clip: true,
      data: [[hi[0][0], hi[0][1]]],
      encode: { x: 0, y: 1 },
      renderItem: (_params: any, api: any) => {
        const pts: number[][] = [];
        for (const q of hi) pts.push(api.coord(q));
        for (let k = lo.length - 1; k >= 0; k--) pts.push(api.coord(lo[k]));
        return { type: "polygon", shape: { points: pts }, style: { fill: bandFill, stroke: "none" }, silent: true };
      },
      markLine: {
        silent: true,
        symbol: ["none", "none"],
        label: { show: false },
        lineStyle: { color: "#9a9a9a", width: 1.2, type: "solid" },
        emphasis: { disabled: true },
        data: [{ yAxis: 0 }],
      },
    });

    series.push({
      type: "line",
      xAxisIndex: xi,
      yAxisIndex: yi,
      z: 3,
      data: p.line,
      step: "end",
      showSymbol: false,
      symbol: "none",
      silent: true,
      clip: true,
      lineStyle: { color: lineColor, width: 1.6 },
      itemStyle: { color: lineColor },
    });

    graphic.push({
      type: "rect",
      z: 50,
      silent: true,
      shape: { x: l + 0.5, y: t + 0.5, width: w - 1, height: h - 1 },
      style: { fill: "none", stroke: "#333333", lineWidth: 1 },
    });
  });

  const txt = (text: string, x: number, y: number, font: string, align: string) => ({
    type: "text",
    z: 50,
    silent: true,
    x,
    y,
    style: { text, font, fill: "#000000", align, verticalAlign: "middle", textAlign: align, textVerticalAlign: "middle" },
  });

  graphic.push(txt("(a) Italy", 593, 24, `22px ${SERIF}`, "center"));
  graphic.push(txt("(b) Spain", 593, 782, `22px ${SERIF}`, "center"));
  graphic.push(txt("Distress", 41, 70, `27.5px ${SANS}`, "left"));
  graphic.push(txt("Panic", 638, 70, `27.5px ${SANS}`, "left"));
  graphic.push(txt("Distress", 30, 818, `27.5px ${SANS}`, "left"));
  graphic.push(txt("Panic", 627, 818, `27.5px ${SANS}`, "left"));

  return {
    animation: false,
    backgroundColor: "#ffffff",
    textStyle: { fontFamily: SANS },
    grid,
    xAxis,
    yAxis,
    series,
    graphic,
  };
}

export default function App() {
  const ref = useRef<HTMLDivElement>(null);
  useEffect(() => {
    document.body.style.margin = "0";
    const chart = echarts.init(ref.current as HTMLDivElement, undefined, { renderer: "svg" });
    chart.setOption(buildOption() as any);
    return () => {
      chart.dispose();
    };
  }, []);
  return <div ref={ref} style={{ width: 1190, height: 1451 }} />;
}
